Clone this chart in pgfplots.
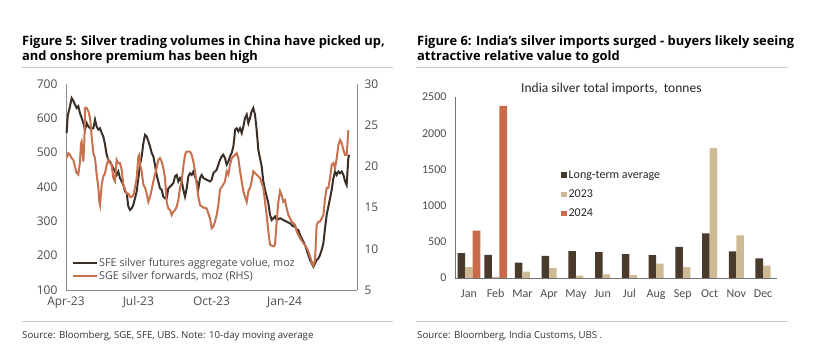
\documentclass[border=0pt]{standalone}
\usepackage{fontspec}
\setmainfont{Open Sans}
\newfontfamily\calibri{Carlito}
\usepackage{pgfplots}
\pgfplotsset{compat=1.18}
\definecolor{sfe}{HTML}{3B2F28}
\definecolor{sge}{HTML}{C8714E}
\definecolor{lt}{HTML}{4A3A2C}
\definecolor{yrA}{HTML}{CDB994}
\definecolor{yrB}{HTML}{C96A4B}
\definecolor{rulegray}{HTML}{C8C8C8}
\definecolor{axisgray}{HTML}{8C8C8C}
\definecolor{ticktext}{HTML}{4D4D4D}

\pgfplotstableread{
d v
0.8 557
2.1 606
5.0 635
7.1 659
9.2 651
11.3 640
13.4 630
15.5 635
17.6 615
19.7 601
21.8 586
23.9 567
26.0 586
28.1 576
30.2 571
34.4 571
36.5 596
38.6 576
40.7 567
42.8 571
44.9 557
47.0 547
49.1 523
51.2 494
53.2 479
55.3 474
59.5 455
63.7 435
65.8 445
67.9 426
72.1 406
74.2 387
76.3 382
78.4 343
80.5 333
82.6 338
84.7 348
86.8 367
88.9 387
91.0 426
93.1 465
95.2 489
97.3 528
99.4 552
101.5 547
103.6 533
105.7 518
107.8 499
109.9 489
111.9 465
114.0 435
116.1 416
118.2 396
120.3 392
122.4 372
124.5 367
126.6 367
128.7 396
130.8 401
135.0 411
137.1 431
139.2 435
141.3 416
143.4 426
145.5 416
147.6 392
149.7 372
151.8 396
153.9 431
156.0 440
158.1 435
160.2 445
162.3 431
164.4 416
166.5 396
168.6 426
170.7 435
172.8 426
176.9 421
181.1 416
183.2 421
185.3 440
187.4 445
189.5 450
191.6 465
193.7 479
195.8 489
197.9 494
200.0 484
202.1 465
204.2 474
206.3 489
208.4 499
210.5 518
211.7 542
212.6 567
214.7 571
216.8 562
218.9 571
221.0 557
223.1 576
225.2 601
227.3 611
229.4 586
231.5 601
233.5 620
235.6 630
237.7 611
239.8 567
241.9 508
244.0 484
246.1 460
248.2 416
250.3 392
252.4 372
254.5 353
256.6 319
258.7 304
262.9 314
265.0 304
269.2 309
273.4 304
277.6 299
281.8 294
286.0 285
288.1 285
290.2 275
292.2 275
294.3 260
296.4 251
298.5 241
300.6 231
302.7 217
304.8 202
306.9 187
309.0 178
311.1 168
313.2 178
315.3 187
317.4 192
319.5 202
321.6 217
323.7 236
325.8 280
327.9 319
330.0 343
332.1 367
334.2 392
336.3 426
338.4 445
340.5 435
342.6 445
344.7 440
346.8 445
348.9 435
351.0 416
353.0 406
355.1 484
356.0 494
}\sfetable

\pgfplotstableread{
d v
0.8 21.0
2.9 21.6
5.0 21.4
7.1 21.0
9.2 20.8
11.3 20.0
13.4 19.2
15.5 19.0
17.6 20.6
18.9 22.8
19.7 23.0
21.0 21.6
21.8 20.6
23.1 23.0
23.9 27.1
26.0 27.1
28.1 26.7
30.2 25.9
32.3 23.6
34.4 21.6
36.5 21.0
38.6 19.0
40.7 17.4
41.9 15.7
42.8 15.3
44.9 17.8
47.0 18.8
49.1 19.2
51.2 20.2
53.2 20.8
55.3 20.4
57.4 20.2
59.5 18.6
61.6 18.2
63.7 20.8
65.8 20.4
67.9 20.4
70.0 19.6
72.1 17.8
74.2 17.2
76.3 16.7
78.4 16.7
80.5 16.3
82.6 16.3
84.7 16.5
86.8 17.4
88.9 18.6
91.0 21.2
92.2 21.4
93.1 20.2
95.2 19.4
97.3 17.8
99.4 17.4
101.5 16.7
103.6 15.7
105.7 16.3
107.8 17.2
109.9 18.2
111.9 19.0
114.0 19.8
116.1 20.8
118.2 21.0
120.3 20.6
122.4 19.8
124.5 18.6
126.6 15.7
128.7 14.9
130.8 14.7
132.9 14.1
135.0 14.5
137.1 14.7
139.2 15.1
141.3 15.9
143.4 17.4
145.5 18.2
147.6 20.0
149.7 21.4
151.8 21.8
156.0 21.8
158.1 21.4
160.2 20.6
162.3 19.4
164.4 17.8
166.5 16.3
168.6 15.3
172.8 15.0
176.9 14.9
181.1 13.7
183.2 12.5
185.3 12.7
187.4 13.3
189.5 14.1
191.6 15.3
193.7 17.2
197.9 17.8
200.0 18.2
202.1 19.4
204.2 19.0
206.3 20.2
208.4 21.0
212.6 21.4
214.7 21.6
216.8 21.0
218.9 19.4
221.0 18.2
223.1 17.0
225.2 16.3
227.3 15.7
229.4 17.0
231.5 17.4
233.5 18.2
235.6 19.4
239.8 19.0
244.0 18.6
248.2 17.4
250.3 15.7
252.4 14.1
254.5 12.1
256.6 10.5
260.8 10.3
262.9 10.5
265.0 13.3
267.1 15.7
269.2 17.0
271.3 16.5
273.4 15.7
275.5 15.9
277.6 14.9
279.7 14.1
281.8 13.7
283.9 13.3
286.0 13.1
288.1 12.9
290.2 12.1
294.3 11.3
298.5 10.7
302.7 10.1
304.8 9.7
306.9 9.1
309.0 8.4
311.1 8.0
313.2 8.6
315.3 12.9
317.4 13.3
319.5 13.3
321.6 13.7
323.7 14.1
325.8 16.1
327.9 17.4
330.0 17.4
332.1 18.6
334.2 20.2
336.3 20.4
338.4 19.8
340.5 21.0
342.6 22.6
344.7 23.2
346.8 22.8
348.9 22.0
351.0 21.4
353.0 21.4
353.9 22.6
355.1 24.4
}\sgetable

\begin{document}
\begin{tikzpicture}
\useasboundingbox (0pt,0pt) rectangle (831pt,-352pt);
\fill[white] (0pt,0pt) rectangle (831pt,-352pt);

% ---------- titles and rules ----------
\begin{scope}[every node/.style={anchor=base west, inner sep=0pt, font=\bfseries\fontsize{12.9}{14}\selectfont, text=black}]
\node at (22pt,-46pt) {Figure 5: Silver trading volumes in China have picked up,};
\node at (22pt,-60.7pt) {and onshore premium has been high};
\node at (417pt,-46pt) {Figure 6: India's silver imports surged - buyers likely seeing};
\node at (417pt,-60.7pt) {attractive relative value to gold};
\end{scope}
\draw[rulegray, line width=0.8pt] (22pt,-67.5pt) -- (393pt,-67.5pt);
\draw[rulegray, line width=0.8pt] (416pt,-67.5pt) -- (788pt,-67.5pt);
\draw[rulegray, line width=0.8pt] (22pt,-321pt) -- (393pt,-321pt);
\draw[rulegray, line width=0.8pt] (416pt,-321pt) -- (788pt,-321pt);
\begin{scope}[every node/.style={anchor=base west, inner sep=0pt, font=\fontsize{9.7}{10}\selectfont, text=black!80}]
\node at (22pt,-338.5pt) {Source: Bloomberg, SGE, SFE, UBS. Note: 10-day moving average};
\node at (417pt,-338.5pt) {Source: Bloomberg, India Customs, UBS .};
\end{scope}

% ---------- left chart, left axis ----------
\begin{axis}[at={(66pt,-290pt)}, anchor=south west, scale only axis,
  width=291pt, height=206pt,
  xmin=0, xmax=366, ymin=100, ymax=700,
  axis x line=bottom, axis y line=left,
  axis line style={-, axisgray, line width=0.8pt},
  major tick length=0pt,
  xtick={0,91,183,275}, xticklabels={Apr-23,Jul-23,Oct-23,Jan-24},
  ytick={100,200,...,700},
  /pgf/number format/assume math mode=true,
  ticklabel style={font=\fontsize{12}{12}\selectfont, text=ticktext},
  yticklabel style={xshift=-5pt},
  xticklabel style={yshift=-3pt},
  clip=false]
\addplot[sfe, line width=2pt] table[x=d, y=v] {\sfetable};
\end{axis}

% ---------- left chart, right axis ----------
\begin{axis}[at={(66pt,-290pt)}, anchor=south west, scale only axis,
  width=291pt, height=206pt,
  xmin=0, xmax=366, ymin=5, ymax=30,
  axis x line=none, axis y line*=right,
  axis line style={-, axisgray, line width=0.8pt},
  major tick length=0pt,
  ytick={5,10,...,30},
  /pgf/number format/assume math mode=true,
  ticklabel style={font=\fontsize{12}{12}\selectfont, text=ticktext},
  yticklabel style={xshift=4pt},
  legend style={at={(0,0)}, anchor=south west, xshift=5pt, yshift=7pt,
    draw=none, fill=none, font=\fontsize{10.8}{11}\selectfont, text=ticktext,
    row sep=1pt, inner sep=1pt,
    nodes={inner sep=1pt}},
  legend cell align=left,
  legend image code/.code={\draw[#1] (0pt,0pt) -- (24pt,0pt);}]
\addlegendimage{sfe, line width=2pt}
\addlegendentry{SFE silver futures aggregate volue, moz}
\addplot[sge, line width=2pt] table[x=d, y=v] {\sgetable};
\addlegendentry{SGE silver forwards, moz (RHS)}
\end{axis}

% ---------- right chart ----------
\node[anchor=west, inner sep=0pt, font=\calibri\fontsize{13.5}{13.5}\selectfont, text=black!85] at (521pt,-89pt) {India silver total imports, \ tonnes};
\begin{axis}[at={(455pt,-278pt)}, anchor=south west, scale only axis,
  width=322pt, height=181pt,
  xmin=-0.52, xmax=11.52, ymin=0, ymax=2500,
  axis x line=bottom, axis y line=left,
  axis line style={-, black!55, line width=0.8pt},
  major tick length=0pt,
  ybar=0pt, bar width=7.6pt,
  xtick={0,...,11},
  xticklabels={Jan,Feb,Mar,Apr,May,Jun,Jul,Aug,Sep,Oct,Nov,Dec},
  ytick={0,500,...,2500},
  /pgf/number format/assume math mode=true,
  /pgf/number format/1000 sep={},
  ticklabel style={font=\calibri\fontsize{12}{12}\selectfont, text=ticktext},
  yticklabel style={xshift=-5pt},
  xticklabel style={yshift=-8pt},
  legend style={at={(0.32,0.35)}, anchor=south west, yshift=-8pt,
    draw=none, fill=none, font=\calibri\fontsize{12}{12}\selectfont, text=black!85,
    row sep=6pt},
  legend cell align=left,
  legend image code/.code={\fill[#1] (0pt,-2.6pt) rectangle (5.4pt,2.8pt);},
  clip=false]
\addplot[draw=none, fill=lt, bar shift=-7.6pt] coordinates {(0,344) (1,321)};
\addlegendentry{Long-term average}
\addplot[draw=none, fill=yrA, bar shift=0pt] coordinates {(0,151) (1,15)};
\addlegendentry{2023}
\addplot[draw=none, fill=yrB, bar shift=7.6pt] coordinates {(0,656) (1,2376)};
\addlegendentry{2024}
\addplot[draw=none, fill=lt, bar shift=-3.8pt, forget plot] coordinates {(2,211) (3,307) (4,372) (5,358) (6,330) (7,317) (8,431) (9,615) (10,367) (11,271)};
\addplot[draw=none, fill=yrA, bar shift=3.8pt, forget plot] coordinates {(2,87) (3,138) (4,32) (5,50) (6,41) (7,197) (8,151) (9,1798) (10,587) (11,170)};
\end{axis}
\end{tikzpicture}
\end{document}
